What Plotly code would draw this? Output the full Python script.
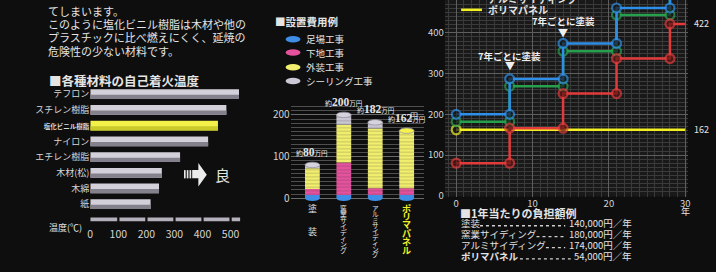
import numpy as np
import plotly.graph_objects as go

W, H = 716, 272
FONT = "Noto Sans CJK JP"
NARROW = "Liberation Sans Narrow"


def px(x):
    return x / W


def py(y):
    return 1 - y / H


# ---------------- data ----------------
# chart 1: self-ignition temperature
materials = ["テフロン", "スチレン樹脂", "塩化ビニル樹脂", "ナイロン", "エチレン樹脂", "木材(松)", "木綿", "紙"]
ignition_temp = [530, 485, 455, 420, 320, 255, 245, 215]
temp_ticks = [0, 100, 200, 300, 400, 500]
highlight_material = "塩化ビニル樹脂"

# chart 2: installation cost (万円)
cost_categories = ["塗装", "窯業サイディング", "アルミサイディング", "ポリマパネル"]
cost_parts = ["足場工事", "下地工事", "外装工事", "シーリング工事"]
scaffold = [8, 8, 8, 8]
base_work = [14, 78, 16, 16]
exterior = [50, 90, 143, 138]
sealing = [8, 24, 15, 0]
cost_totals = [80, 200, 182, 162]
cost_ticks = [0, 100, 200]

# chart 3: cumulative cost over years (万円)
years = [0, 7, 7, 14, 14, 21, 21, 28, 28, 30]
cum_paint = [80, 80, 166, 166, 251, 251, 337, 337, 422, 422]
cum_ceramic = [200, 200, 287, 287, 374, 374, 461, 461, 548, 548]
cum_alu = [182, 182, 269, 269, 355, 355, 444, 444, 531, 531]
polymer_years = [0, 30]
cum_polymer = [162, 162]
year_ticks = [0, 10, 20, 30]
cum_ticks = [0, 100, 200, 300, 400]

# chart 4: annual burden (円/年)
annual_cost = [140000, 180000, 174000, 54000]

# ---------------- styles ----------------
TXT = "#e4e4e4"
part_colors = ["#3f8ee6", "#e4529e", "#f2ef6e", "#cbc7d4"]
line_colors = {"paint": "#e23b3b", "ceramic": "#2f8fe8", "alu": "#27a04e", "polymer": "#f2f022"}

fig = go.Figure()

# ---------- chart 1: horizontal bevel bars ----------
light = ["#f4f24a" if m == highlight_material else "#d4d0da" for m in materials]
dark = ["#c9c92a" if m == highlight_material else "#85818c" for m in materials]
fig.add_trace(go.Bar(y=materials, x=ignition_temp, orientation="h", xaxis="x", yaxis="y",
                     width=0.62, offset=-0.31, marker=dict(color=light, line=dict(width=0)),
                     hoverinfo="skip"))
fig.add_trace(go.Bar(y=materials, x=ignition_temp, orientation="h", xaxis="x", yaxis="y",
                     width=0.27, offset=0.04, marker=dict(color=dark, line=dict(width=0)),
                     hoverinfo="skip"))

# ---------- chart 2: stacked cylinders ----------
xpos = list(range(len(cost_categories)))
base = np.zeros(len(cost_categories))
for name, vals, col in zip(cost_parts, [scaffold, base_work, exterior, sealing], part_colors):
    fig.add_trace(go.Bar(x=xpos, y=vals, base=base.copy(), xaxis="x2", yaxis="y2", width=0.47,
                         name=name,
                         marker=dict(color=col, line=dict(width=0),
                                     pattern=dict(shape="-", fgcolor="rgba(60,60,60,0.5)",
                                                  size=3.5, solidity=0.3))))
    base += np.array(vals)


# ---------- chart 3: step lines ----------
def step_trace(xs, ys, color, fill):
    sizes = [9] * (len(xs) - 1) + [0]
    return go.Scatter(x=xs, y=ys, xaxis="x3", yaxis="y3", mode="lines+markers",
                      line=dict(color=color, width=2.5),
                      marker=dict(size=sizes, color=fill, line=dict(color=color, width=2.2)),
                      hoverinfo="skip")


fig.add_trace(step_trace(polymer_years, cum_polymer, line_colors["polymer"], "#161616"))
fig.add_trace(step_trace(years, cum_alu, line_colors["alu"], "#161616"))
fig.add_trace(step_trace(years, cum_ceramic, line_colors["ceramic"], "#161616"))
fig.add_trace(step_trace(years, cum_paint, line_colors["paint"], "#5a1414"))

# ---------------- shapes ----------------
shapes = []
# chart 1 segmented axis bar
xmax1 = 540
for t in temp_ticks:
    s0 = t + 4 if t > 0 else 0
    s1 = min(t + 96, xmax1 - 6)
    shapes.append(dict(type="rect", xref="x", yref="paper", x0=s0, x1=s1,
                       y0=py(225.5), y1=py(221.5), fillcolor="#b4b0bc", line=dict(width=0)))

# arrow "⇒"
for sx in [182.5, 185.3, 188.1]:
    shapes.append(dict(type="rect", xref="paper", yref="paper", x0=px(sx), x1=px(sx + 1.7),
                       y0=py(181.7), y1=py(173.3), fillcolor="#e8e8e8", line=dict(width=0)))
arrow_path = "M {a},{b} L {c},{b} L {c},{d} L {e},{f} L {c},{g} L {c},{h} L {a},{h} Z".format(
    a=px(190.8), b=py(173.3), c=px(197), d=py(166), e=px(205.5), f=py(178), g=py(190), h=py(181.7))
shapes.append(dict(type="path", xref="paper", yref="paper", path=arrow_path,
                   fillcolor="#ececec", line=dict(width=0)))

# chart 2 cylinder caps
for i, tot in enumerate(cost_totals):
    top_col = "#d6d2de" if sealing[i] > 0 else "#f6f24a"
    shapes.append(dict(type="circle", xref="x2", yref="y2", x0=i - 0.235, x1=i + 0.235,
                       y0=-6.5, y1=6.5, fillcolor="#3f8ee6", line=dict(width=0)))
    shapes.append(dict(type="circle", xref="x2", yref="y2", x0=i - 0.235, x1=i + 0.235,
                       y0=tot - 6.5, y1=tot + 6.5, fillcolor=top_col,
                       line=dict(width=0.8, color="#9a96a2")))

# chart 2 legend ellipses
legend_y = [40, 53.5, 68.5, 82.5]
for yy, col in zip(legend_y, part_colors):
    shapes.append(dict(type="circle", xref="paper", yref="paper", x0=px(285), x1=px(300),
                       y0=py(yy + 3.3), y1=py(yy - 3.3), fillcolor=col, line=dict(width=0)))

# chart 3 background
shapes.append(dict(type="rect", xref="x3 domain", yref="y3 domain", x0=0, x1=1, y0=0, y1=1,
                   fillcolor="#191919", line=dict(width=0), layer="below"))
# chart 3 legend lines
for yy, col in [(-2, line_colors["alu"]), (10, line_colors["polymer"])]:
    shapes.append(dict(type="line", xref="paper", yref="paper", x0=px(462), x1=px(483),
                       y0=py(yy), y1=py(yy), line=dict(color=col, width=2.5)))

# ---------------- annotations ----------------
ann = []


def txt(x, y, s, size=10, color=TXT, anchor="left", bold=False):
    if bold:
        s = "<b>" + s + "</b>"
    ann.append(dict(x=px(x), y=py(y), xref="paper", yref="paper", text=s, showarrow=False,
                    xanchor=anchor, yanchor="middle",
                    font=dict(size=size, color=color, family=FONT)))


# top-left paragraph
para = ["てしまいます。", "このように塩化ビニル樹脂は木材や他の",
        "プラスチックに比べ燃えにくく、延焼の", "危険性の少ない材料です。"]
for s, yy in zip(para, [11, 24.5, 38, 51.5]):
    txt(43, yy, s, size=11)

txt(44, 82, "■各種材料の自己着火温度", size=12.5, bold=True)
txt(82, 232, "温度(℃)", size=9, anchor="right")
txt(212, 177.5, "良", size=15)

# chart 2 titles / legend
txt(272, 22, "■設置費用例", size=10.5, bold=True)
for yy, name in zip(legend_y, cost_parts):
    txt(304, yy, name, size=9.5)

# chart 2 value labels
for i, tot in enumerate(cost_totals):
    ann.append(dict(x=i, y=tot, xref="x2", yref="y2", showarrow=False, yshift=13,
                    xanchor="center", yanchor="middle",
                    text=("約<b><span style='font-size:11.5px;font-family:{f}'>{v}</span></b>"
                          "<span style='font-size:6.5px'>万円</span>").format(f=NARROW, v=tot),
                    font=dict(size=7, color=TXT, family=FONT)))

# chart 2 vertical category labels (upright characters stacked top to bottom)
label_sizes = [9, 6.8, 6.6, 9]
label_steps = [24, 6.1, 5.9, 8.6]
label_colors = [TXT, TXT, TXT, "#f2f022"]
label_bold = [False, False, False, True]
for i, cat in enumerate(cost_categories):
    for k, ch in enumerate(cat):
        yy = 212 + k * label_steps[i]
        ann.append(dict(x=i, y=py(yy), xref="x2", yref="paper", showarrow=False,
                        xanchor="center", yanchor="middle",
                        text="<b>" + ch + "</b>" if label_bold[i] else ch,
                        font=dict(size=label_sizes[i], color=label_colors[i], family=FONT)))

# chart 3 texts
for xv, yv_text, yv_tri in [(7, 343, 319), (14, 428, 401)]:
    ann.append(dict(x=xv, y=yv_text, xref="x3", yref="y3", showarrow=False, xanchor="center",
                    yanchor="middle", text="<b>7年ごとに塗装</b>",
                    font=dict(size=9.5, color="#f0f0f0", family=FONT)))
    ann.append(dict(x=xv, y=yv_tri, xref="x3", yref="y3", showarrow=False, xanchor="center",
                    yanchor="middle", text="▼", font=dict(size=10, color="#f0f0f0", family=FONT)))
for val in [cum_paint[-1], cum_polymer[-1]]:
    ann.append(dict(x=30, y=val, xref="x3", yref="y3", showarrow=False, xanchor="left",
                    yanchor="middle", xshift=7, text=str(val),
                    font=dict(size=9, color=TXT, family=FONT)))
ann.append(dict(x=30, y=py(215.5), xref="x3", yref="paper", showarrow=False, xanchor="center",
                yanchor="middle", text="年", font=dict(size=9, color=TXT, family=FONT)))
txt(414, 118, "円", size=8, anchor="center")
txt(487, -2, "<b>アルミサイディング</b>", size=10)
txt(487, 10, "<b>ポリマパネル</b>", size=10)

# chart 4: annual burden list
txt(459, 217, "■1年当たりの負担額例", size=11, bold=True)
row_y = [227.5, 238.5, 249.8, 261.2]
ROW_FS = 9.5
PRICE_RIGHT = 636
for i, (cat, val) in enumerate(zip(cost_categories, annual_cost)):
    bold = i == 3
    price = "{:,}円／年".format(val)
    txt(460, row_y[i], cat, size=ROW_FS, bold=bold)
    txt(PRICE_RIGHT, row_y[i], price, size=ROW_FS, anchor="right")
    label_end = 460 + len(cat) * ROW_FS * (1.04 if bold else 1.0)
    n_ascii = len("{:,}".format(val))
    price_start = PRICE_RIGHT - (n_ascii * 5.5 + 3 * ROW_FS)
    shapes.append(dict(type="line", xref="paper", yref="paper",
                       x0=px(label_end + 2), x1=px(price_start - 2),
                       y0=py(row_y[i] + 2.5), y1=py(row_y[i] + 2.5),
                       line=dict(color="#cfcfcf", width=1.3, dash="dot")))

# ---------------- layout ----------------
tickfont = dict(size=10, color="#d4d4d4", family=FONT)
tickfont3 = dict(size=9.5, color="#d4d4d4", family=FONT)
ticktext1 = ["<span style='font-size:6.5px'><b>{}</b></span>".format(m) if m == highlight_material else m
             for m in materials]

fig.update_layout(
    width=W, height=H, margin=dict(l=0, r=0, t=0, b=0),
    paper_bgcolor="#0e0e0e", plot_bgcolor="rgba(0,0,0,0)",
    barmode="overlay", showlegend=False,
    font=dict(family=FONT, color=TXT, size=10),
    shapes=shapes, annotations=ann,
    xaxis=dict(domain=[px(88), px(88 + xmax1 * 0.283)], range=[0, xmax1], anchor="y",
               tickvals=temp_ticks, showgrid=False, zeroline=False, showline=False,
               ticks="", tickfont=dict(size=10.5, color="#d4d4d4", family=FONT),
               ticklabelstandoff=14),
    yaxis=dict(domain=[py(216), py(88)], type="category", categoryorder="array",
               categoryarray=materials, range=[7.5, -0.5], anchor="x",
               tickvals=materials, ticktext=ticktext1, showgrid=False, zeroline=False,
               ticks="", tickfont=dict(size=9, color="#d8d8d8", family=FONT)),
    xaxis2=dict(domain=[px(290), px(425)], range=[-0.694, 3.565], anchor="y2",
                showticklabels=False, showgrid=False, zeroline=False, ticks=""),
    yaxis2=dict(domain=[py(205.4), py(103.4)], range=[-8, 232], anchor="x2",
                tickvals=cost_ticks, showgrid=True, gridcolor="#6a6a6a", gridwidth=1,
                zeroline=False, ticks="", tickfont=tickfont,
                minor=dict(dtick=10, tick0=0, showgrid=True, gridcolor="#4e4e4e", gridwidth=1)),
    xaxis3=dict(domain=[px(445.5), px(690.3)], range=[-1.5, 30.3], anchor="y3",
                tickvals=year_ticks, showgrid=True, gridcolor="#5e5e5e", zeroline=False,
                ticks="", tickfont=tickfont3,
                minor=dict(dtick=1, tick0=0, showgrid=True, gridcolor="#3a3a3a")),
    yaxis3=dict(domain=[py(200.3), 1], range=[-2, 480.7], anchor="x3",
                tickvals=cum_ticks, showgrid=True, gridcolor="#5e5e5e", zeroline=False,
                ticks="", tickfont=tickfont3,
                minor=dict(dtick=10, tick0=0, showgrid=True, gridcolor="#3a3a3a")),
)

fig.write_html("out.html")
